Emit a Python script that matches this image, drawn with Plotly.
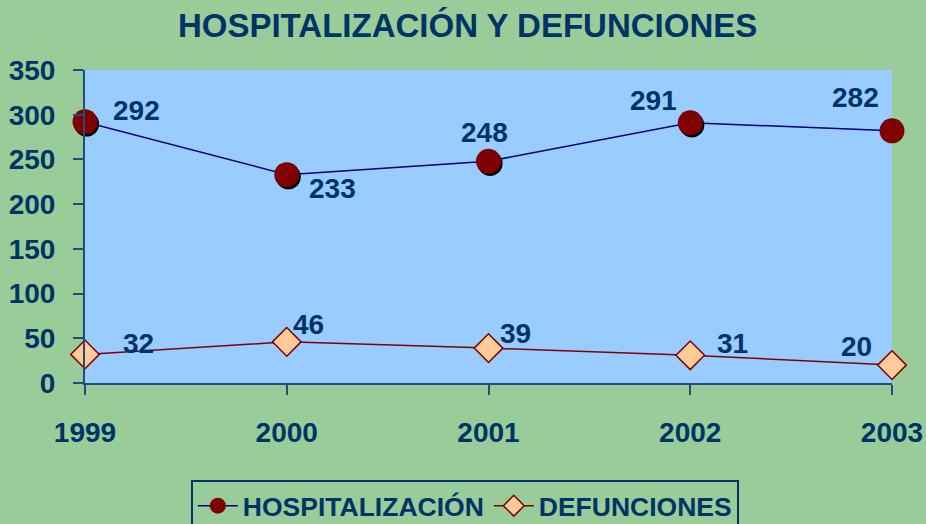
import plotly.graph_objects as go

years = [1999, 2000, 2001, 2002, 2003]
hospitalizacion = [292, 233, 248, 291, 282]
defunciones = [32, 46, 39, 31, 20]

# label offsets in pixels (x, y-up) to mimic the original placement
hosp_shift = [(51, 11), (46, -14), (-4, 29), (-37, 22), (-37, 33)]
def_shift = [(53, 11), (22, 17), (27, 15), (42, 12), (-36, 19)]

navy = "#003366"
axis_col = "#1F4E79"
font_family = "Liberation Sans, Arial, sans-serif"
bold = dict(family=font_family, size=28, color=navy, weight="bold")

fig = go.Figure()

# shadow under the circle markers
fig.add_trace(
    go.Scatter(
        x=[v + 0.008 for v in years],
        y=[v - 2.5 for v in hospitalizacion],
        mode="markers",
        marker=dict(symbol="circle", size=25, color="black"),
        showlegend=False,
        hoverinfo="skip",
        cliponaxis=False,
    )
)
fig.add_trace(
    go.Scatter(
        x=years,
        y=hospitalizacion,
        name="HOSPITALIZACIÓN",
        mode="lines+markers",
        line=dict(color="#000080", width=1.5),
        marker=dict(symbol="circle", size=25, color="#800000"),
        cliponaxis=False,
    )
)
fig.add_trace(
    go.Scatter(
        x=years,
        y=defunciones,
        name="DEFUNCIONES",
        mode="lines+markers",
        line=dict(color="#800000", width=1.5),
        marker=dict(
            symbol="diamond", size=22, color="#FFCC99",
            line=dict(color="#800000", width=1.5),
        ),
        cliponaxis=False,
    )
)

annotations = []
for x, y, (dx, dy) in zip(years, hospitalizacion, hosp_shift):
    annotations.append(dict(x=x, y=y, text=str(y), showarrow=False,
                            xshift=dx, yshift=dy, font=bold))
for x, y, (dx, dy) in zip(years, defunciones, def_shift):
    annotations.append(dict(x=x, y=y, text=str(y), showarrow=False,
                            xshift=dx, yshift=dy, font=bold))

axis_style = dict(
    showgrid=False,
    zeroline=False,
    showline=True,
    linecolor=axis_col,
    linewidth=2,
    ticks="outside",
    ticklen=10,
    tickwidth=2,
    tickcolor=axis_col,
    tickfont=bold,
    automargin=False,
)

fig.update_xaxes(
    range=[1999, 2003],
    tickvals=years,
    ticktext=[str(y) for y in years],
    ticklabelstandoff=13,
    **axis_style,
)
fig.update_yaxes(
    range=[0, 350],
    dtick=50,
    ticklabelstandoff=12,
    **axis_style,
)

fig.update_layout(
    title=dict(
        text="HOSPITALIZACIÓN Y DEFUNCIONES",
        x=0.505,
        xanchor="center",
        y=0.952,
        yanchor="middle",
        font=dict(family=font_family, size=33, color=navy, weight="bold"),
    ),
    font=dict(family=font_family, color=navy),
    paper_bgcolor="#99CC99",
    plot_bgcolor="#99CCFF",
    width=926,
    height=524,
    margin=dict(l=85, r=34, t=70, b=141),
    showlegend=True,
    legend=dict(
        orientation="h",
        xref="container",
        yref="container",
        x=0.502,
        xanchor="center",
        y=0.084,
        yanchor="top",
        bgcolor="rgba(0,0,0,0)",
        bordercolor=navy,
        borderwidth=2,
        font=dict(family=font_family, size=26.5, color=navy, weight="bold"),
        itemwidth=40,
    ),
    annotations=annotations,
)

fig.write_html(
    "out.html",
    config={"displayModeBar": False},
    post_script="document.body.style.margin='0';document.body.style.overflow='hidden';",
)
